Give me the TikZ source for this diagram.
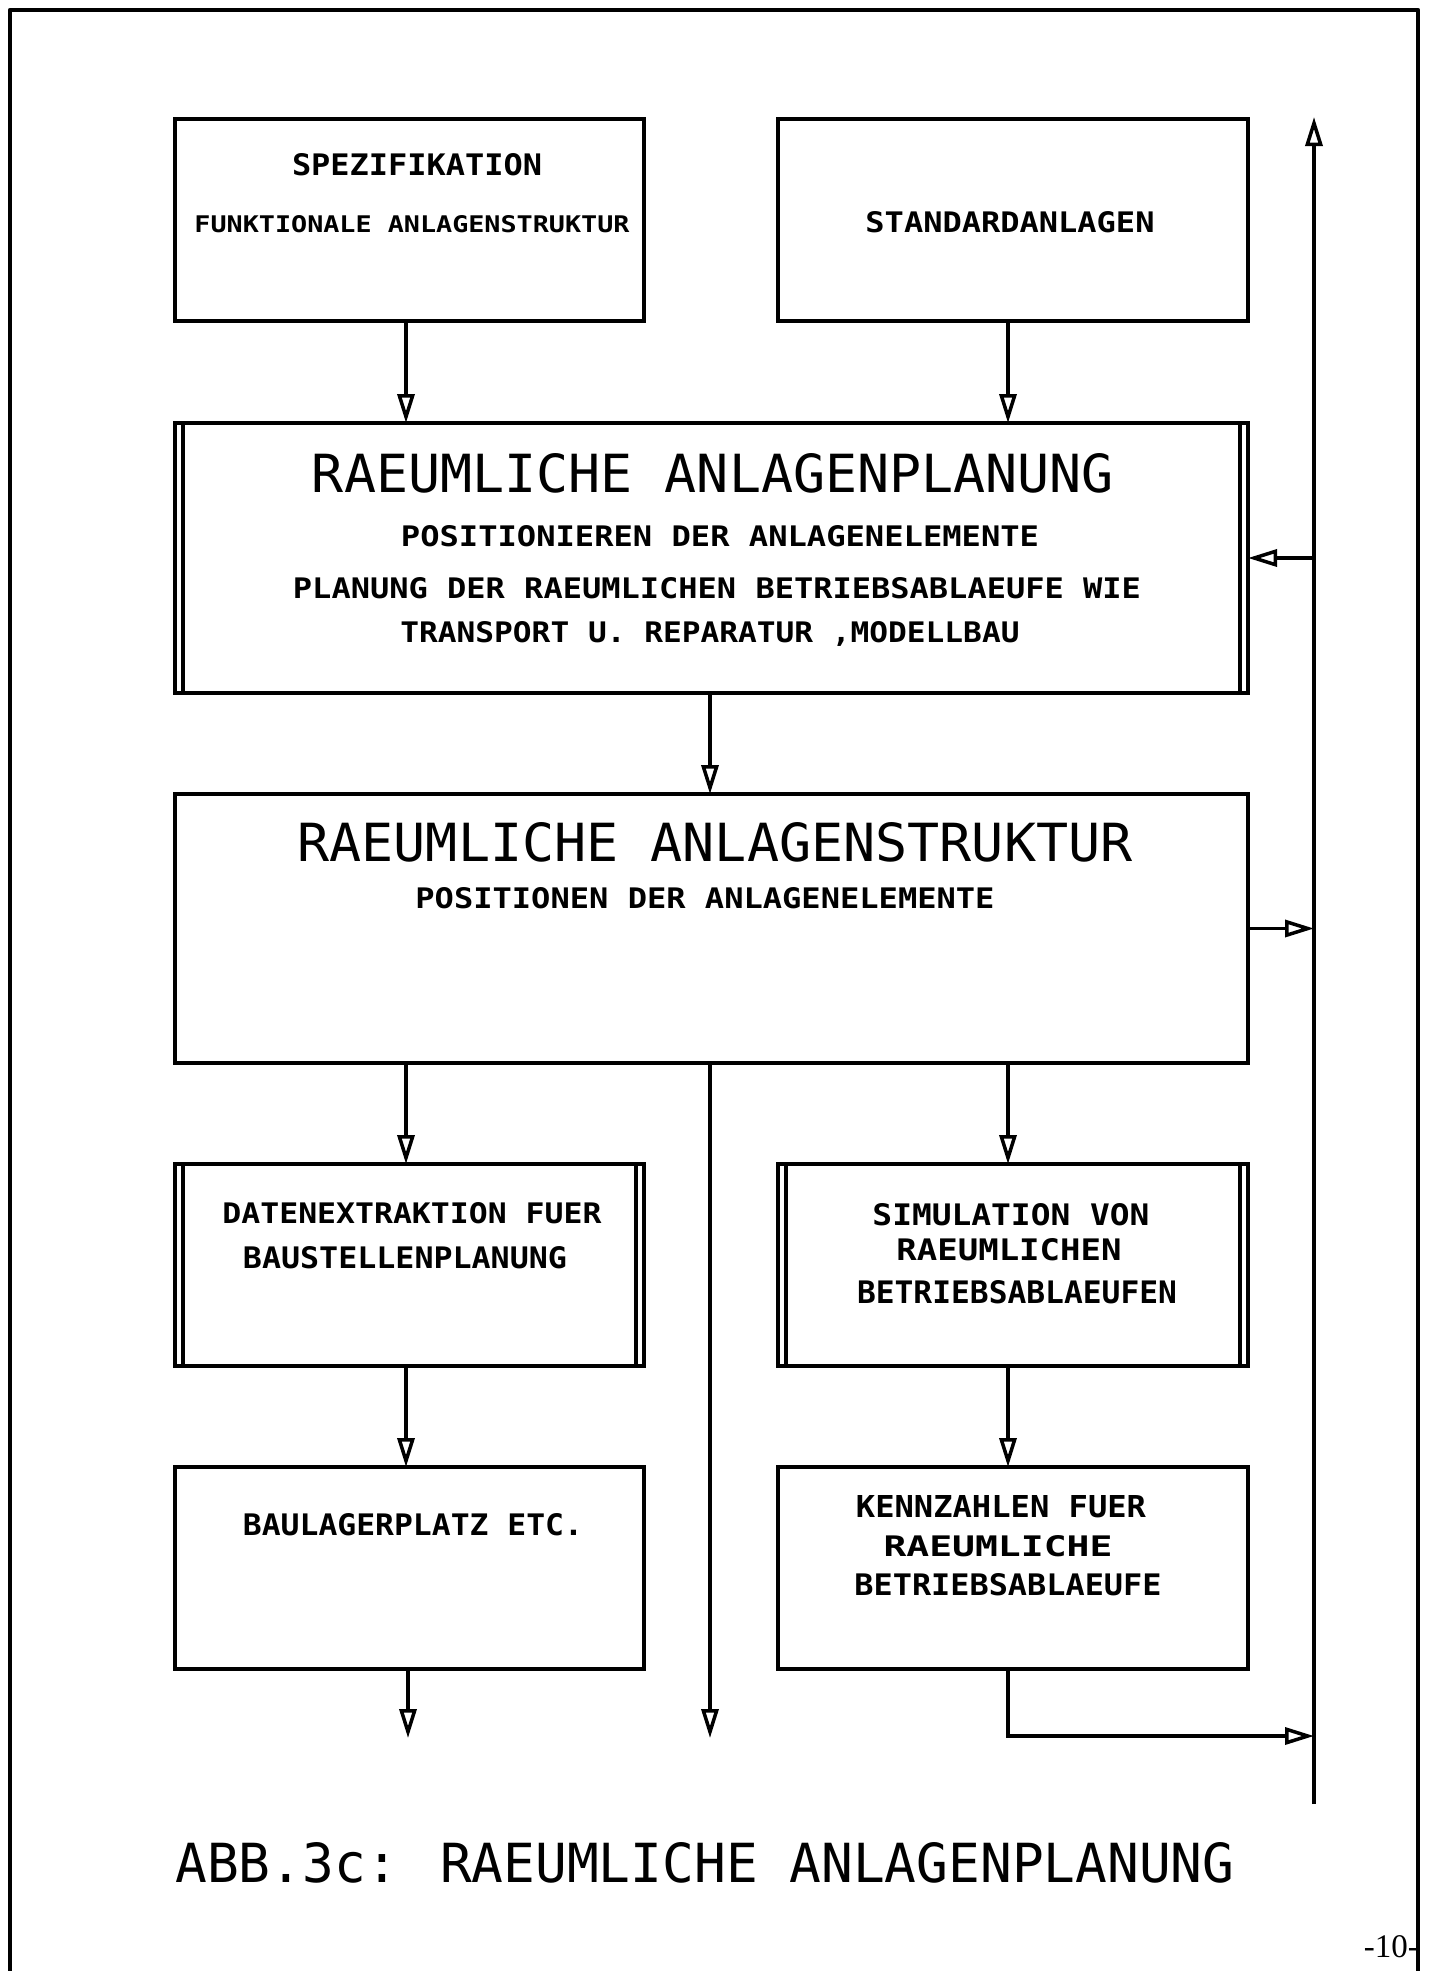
\documentclass[tikz,border=0pt]{standalone}
\usepackage{fontspec}
\usepackage{graphicx}
\usetikzlibrary{arrows.meta}
\newfontfamily\plot{DejaVu Sans Mono}
\newfontfamily\pgserif{Liberation Serif}
\newcommand{\ft}[3]{\resizebox{#1pt}{#2pt}{#3}}
\begin{document}
\begin{tikzpicture}[x=1pt,y=-1pt,
  box/.style={draw, line width=3.8pt, inner sep=0pt, outer sep=0pt, anchor=north west},
  inline/.style={line width=3.2pt},
  txt/.style={inner sep=0pt, anchor=base, font=\plot\bfseries},
  big/.style={inner sep=0pt, anchor=base, font=\plot},
  arr/.style={line width=3.5pt, -{Triangle[open, length=29pt, width=17pt]}},
  frame/.style={line width=4.5pt, line cap=round, line join=round}]
\useasboundingbox (0,0) rectangle (1431,1971);
% page frame
\draw[frame] (10,1971) -- (10,10) -- (1418,10) -- (1418,1971);
\node[inner sep=0pt, anchor=base east, font=\pgserif\fontsize{33}{33}\selectfont] (pg) at (1419,1957) {-10-};

% boxes
\node[box, minimum width=469pt, minimum height=202pt] (b1) at (175,119) {};
\node[box, minimum width=470pt, minimum height=202pt] (b2) at (778,119) {};
\node[box, minimum width=1073pt, minimum height=270pt] (b3) at (175,423) {};
\node[box, minimum width=1073pt, minimum height=269pt] (b4) at (175,794) {};
\node[box, minimum width=469pt, minimum height=202pt] (b5) at (175,1164) {};
\node[box, minimum width=470pt, minimum height=202pt] (b6) at (778,1164) {};
\node[box, minimum width=469pt, minimum height=202pt] (b7) at (175,1467) {};
\node[box, minimum width=470pt, minimum height=202pt] (b8) at (778,1467) {};
% double side lines
\foreach \b in {b3,b5,b6}{
  \draw[inline] ([xshift=8pt]\b.north west) -- ([xshift=8pt]\b.south west);
  \draw[inline] ([xshift=-8pt]\b.north east) -- ([xshift=-8pt]\b.south east);
}

% texts
\node[txt] (t1a) at (417,175) {\ft{250}{22}{SPEZIFIKATION}};
\node[txt] (t1b) at (412,232) {\ft{435}{17}{FUNKTIONALE ANLAGENSTRUKTUR}};
\node[txt] (t2) at (1010,232) {\ft{289}{21}{STANDARDANLAGEN}};
\node[big] (t3a) at (713,492) {\ft{802}{39}{RAEUMLICHE ANLAGENPLANUNG}};
\node[txt] (t3b) at (720,546) {\ft{638}{21}{POSITIONIEREN DER ANLAGENELEMENTE}};
\node[txt] (t3c) at (717,598) {\ft{848}{21}{PLANUNG DER RAEUMLICHEN BETRIEBSABLAEUFE WIE}};
\node[txt] (t3d) at (710,642) {\ft{619}{21}{TRANSPORT U. REPARATUR ,MODELLBAU}};
\node[big] (t4a) at (715,861) {\ft{835}{39}{RAEUMLICHE ANLAGENSTRUKTUR}};
\node[txt] (t4b) at (705,908) {\ft{579}{21}{POSITIONEN DER ANLAGENELEMENTE}};
\node[txt] (t5a) at (412,1223) {\ft{379}{21}{DATENEXTRAKTION FUER}};
\node[txt] (t5b) at (405,1268) {\ft{324}{22}{BAUSTELLENPLANUNG}};
\node[txt] (t6a) at (1011,1225) {\ft{277}{22}{SIMULATION VON}};
\node[txt] (t6b) at (1009,1260) {\ft{225}{22}{RAEUMLICHEN}};
\node[txt] (t6c) at (1017,1303) {\ft{320}{23}{BETRIEBSABLAEUFEN}};
\node[txt] (t7) at (413,1535) {\ft{340}{22}{BAULAGERPLATZ ETC.}};
\node[txt] (t8a) at (1001,1517) {\ft{290}{22}{KENNZAHLEN FUER}};
\node[txt] (t8b) at (998,1556) {\ft{229}{21}{RAEUMLICHE}};
\node[txt] (t8c) at (1008,1595) {\ft{307}{22}{BETRIEBSABLAEUFE}};
\node[big] (cap) at (705,1882) {\ft{1059}{40}{ABB.3c: RAEUMLICHE ANLAGENPLANUNG}};

% coordinates for connector columns
\coordinate (xl) at (406,0);
\coordinate (xm) at (710,0);
\coordinate (xr) at (1008,0);
\coordinate (rt) at (1314,117);
\coordinate (rb) at (1314,1804);
\coordinate (el) at (408,1738);
\coordinate (em) at (710,1738);
\coordinate (ek) at (1008,1736);

% connectors
\draw[arr] (b1.south -| xl) -- (b3.north -| xl);
\draw[arr] (b2.south -| xr) -- (b3.north -| xr);
\draw[arr] (b3.south -| xm) -- (b4.north -| xm);
\draw[arr] (b4.south -| xl) -- (b5.north -| xl);
\draw[arr] (b4.south -| xr) -- (b6.north -| xr);
\draw[arr] (b5.south -| xl) -- (b7.north -| xl);
\draw[arr] (b6.south -| xr) -- (b8.north -| xr);
\draw[arr] (b7.south -| el) -- (el);
\draw[arr] (b4.south -| em) -- (em);
\draw[arr, line join=miter] (b8.south -| ek) -- (ek) -- (ek -| rt);
\draw[arr] (rb) -- (rt);
\draw[arr] (rt |- b3.east) -- (b3.east);
\draw[arr] (b4.east) -- (b4.east -| rt);
\end{tikzpicture}
\end{document}
